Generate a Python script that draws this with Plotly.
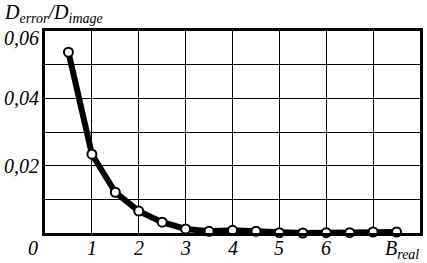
import plotly.graph_objects as go

# Data
x_vals = [0.5, 1.0, 1.5, 2.0, 2.5, 3.0, 3.5, 4.0, 4.5, 5.0, 5.5, 6.0, 6.5, 7.0, 7.5]
y_vals = [0.0537, 0.0234, 0.0121, 0.0065, 0.0032, 0.0012, 0.0005, 0.0008, 0.0005,
          0.0001, 0.0000, 0.0001, 0.0001, 0.0003, 0.0003]

x_tick_vals = [0, 1, 2, 3, 4, 5, 6]
x_tick_text = ["0", "1", "2", "3", "4", "5", "6"]
y_tick_vals = [0.02, 0.04, 0.06]
y_tick_text = ["0,02", "0,04", "0,06"]

FONT = "Liberation Serif, Times New Roman, serif"

fig = go.Figure()
fig.add_trace(go.Scatter(
    x=x_vals, y=y_vals, mode="lines+markers",
    line=dict(color="black", width=6),
    marker=dict(symbol="circle", size=9, color="white",
                line=dict(color="black", width=2)),
    showlegend=False, cliponaxis=False,
))

annotations = []
for v, t in zip(x_tick_vals, x_tick_text):
    annotations.append(dict(
        x=v, y=0, xref="x", yref="y", text="<i>" + t + "</i>", showarrow=False,
        xshift=-12 if v == 0 else 0, yshift=-15,
        font=dict(family=FONT, size=20, color="black"),
        xanchor="center", yanchor="middle"))
annotations.append(dict(
    x=7.5, y=0, xref="x", yref="y", text="<i>B<sub>real</sub></i>",
    showarrow=False, yshift=-16, xshift=5, xanchor="center", yanchor="middle",
    font=dict(family=FONT, size=20, color="black")))
for v, t in zip(y_tick_vals, y_tick_text):
    annotations.append(dict(
        x=0, y=v, xref="x", yref="y", text="<i>" + t + "</i>", showarrow=False,
        xshift=-4, yshift=-7 if v == 0.06 else 0, xanchor="right", yanchor="middle",
        font=dict(family=FONT, size=20, color="black")))
annotations.append(dict(
    x=0, y=1, xref="paper", yref="paper", text="<i>D<sub>error</sub>/D<sub>image</sub></i>",
    showarrow=False, xshift=-43, yshift=3, xanchor="left", yanchor="bottom",
    font=dict(family=FONT, size=20, color="black")))

fig.update_layout(
    width=427, height=263,
    margin=dict(l=45, r=4, t=31, b=30),
    paper_bgcolor="white", plot_bgcolor="white",
    annotations=annotations,
    xaxis=dict(range=[0, 8], dtick=1, tick0=0, showgrid=True, gridcolor="black",
               gridwidth=1, showticklabels=False, ticks="", zeroline=False,
               showline=True, linecolor="black", linewidth=3, mirror=True),
    yaxis=dict(range=[0, 0.06], dtick=0.01, tick0=0, showgrid=True, gridcolor="black",
               gridwidth=1, showticklabels=False, ticks="", zeroline=False,
               showline=True, linecolor="black", linewidth=3, mirror=True),
)

fig.write_html("out.html", config={"displayModeBar": False},
               post_script="document.body.style.margin='0';")
